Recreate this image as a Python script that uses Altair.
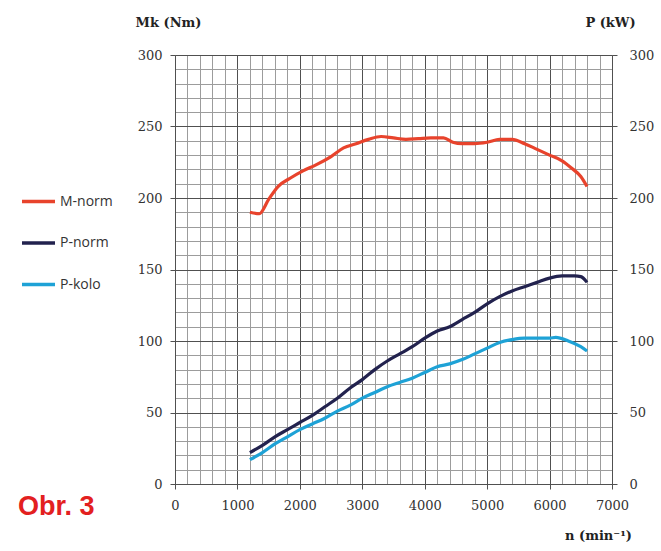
import altair as alt
import pandas as pd

# ---- data ----
m_rpm = [1200, 1350, 1500, 1650, 1850, 2050, 2250, 2500, 2700, 2900, 3100, 3300, 3500, 3700,
         3900, 4100, 4300, 4450, 4600, 4800, 5000, 5200, 5400, 5600, 5800, 6000, 6200, 6350,
         6500, 6600]
m_norm = [190, 189, 199, 208, 214, 219, 223, 229, 235, 238, 241, 243, 242, 241,
          241.5, 242, 242, 239, 238, 238, 239, 241, 241, 238, 234, 230, 226, 221,
          215, 208]

p_rpm = [1200, 1400, 1600, 1800, 2000, 2200, 2400, 2600, 2800, 3000, 3200, 3400, 3600, 3800,
         4000, 4200, 4400, 4600, 4800, 5000, 5200, 5400, 5600, 5800, 6000, 6200, 6400, 6500,
         6600]
p_norm = [22, 27, 33, 38, 43, 48, 54, 60, 67, 73, 80, 86, 91, 96,
          102, 107, 110, 115, 120, 126, 131, 135, 138, 141, 144, 145.5, 145.5, 145,
          141]

k_rpm = [1200, 1400, 1600, 1800, 2000, 2200, 2400, 2600, 2800, 3000, 3200, 3400, 3600, 3800,
         4000, 4200, 4400, 4600, 4800, 5000, 5200, 5400, 5600, 5800, 6000, 6100, 6300, 6500,
         6600]
p_kolo = [17, 22, 28, 33, 38, 42, 46, 51, 55, 60, 64, 68, 71, 74,
          78, 82, 84, 87, 91, 95, 99, 101, 102, 102, 102, 102.5, 100, 96,
          93]

series_names = ["M-norm", "P-norm", "P-kolo"]
series_colors = ["#e8432c", "#22224e", "#1ea2d6"]

x_grid = list(range(0, 7001, 200))
y_grid = list(range(0, 301, 10))

rows = []
for name, xs, ys in [("M-norm", m_rpm, m_norm), ("P-norm", p_rpm, p_norm), ("P-kolo", k_rpm, p_kolo)]:
    for i, (a, b) in enumerate(zip(xs, ys)):
        rows.append({"series": name, "rpm": a, "value": b, "order": i})
df = pd.DataFrame(rows)

serif = "DejaVu Serif"
minor_c = "#9c9c9c"
major_c = "#505050"

x_enc = alt.X(
    "rpm:Q",
    scale=alt.Scale(domain=[0, 7000], nice=False, zero=False),
    axis=alt.Axis(
        values=x_grid, format="d",
        labelExpr="datum.value % 1000 === 0 ? datum.label : ''",
        title="n (min⁻¹)", titleFont=serif, titleFontWeight="bold", titleFontSize=13,
        titleColor="#222", titleX=423, titleY=45, titleAlign="center", titleBaseline="top",
        labelFont=serif, labelFontSize=13, labelColor="#333", labelPadding=10,
        tickSize=5, tickColor={"condition": {"test": "datum.value % 1000 === 0", "value": major_c}, "value": "transparent"},
        grid=True,
        gridColor={"condition": {"test": "datum.value % 1000 === 0", "value": major_c}, "value": minor_c},
        gridWidth=1,
        domainColor=major_c, labelFlush=False, labelOverlap=False,
    ),
)

y_left = alt.Y(
    "value:Q",
    scale=alt.Scale(domain=[0, 300], nice=False),
    axis=alt.Axis(
        values=y_grid,
        labelExpr="datum.value % 50 === 0 ? datum.label : ''",
        title="Mk (Nm)", titleFont=serif, titleFontWeight="bold", titleFontSize=13,
        titleColor="#222", titleAngle=0, titleX=-7, titleY=-33, titleAlign="center",
        titleBaseline="middle",
        labelFont=serif, labelFontSize=13, labelColor="#333", labelPadding=8,
        tickSize=5, tickColor={"condition": {"test": "datum.value % 50 === 0", "value": major_c}, "value": "transparent"},
        grid=True,
        gridColor={"condition": {"test": "datum.value % 50 === 0", "value": major_c}, "value": minor_c},
        gridWidth=1, domainColor=major_c, labelOverlap=False,
    ),
)

y_right = alt.Y(
    "value:Q",
    scale=alt.Scale(domain=[0, 300], nice=False),
    axis=alt.Axis(
        orient="right", values=list(range(0, 301, 50)),
        title="P (kW)", titleFont=serif, titleFontWeight="bold", titleFontSize=13,
        titleColor="#222", titleAngle=0, titleX=-2, titleY=-33, titleAlign="center",
        titleBaseline="middle",
        labelFont=serif, labelFontSize=13, labelColor="#333", labelPadding=12,
        tickSize=5, tickColor=major_c, grid=False, domainColor=major_c,
    ),
)

lines = alt.Chart(df).mark_line(strokeWidth=3.2, interpolate="monotone").encode(
    x=x_enc,
    y=y_left,
    color=alt.Color(
        "series:N",
        scale=alt.Scale(domain=series_names, range=series_colors),
        sort=series_names,
        legend=alt.Legend(
            orient="none", legendX=-155, legendY=128, title=None,
            symbolType="stroke", symbolSize=1089, symbolStrokeWidth=3.5,
            labelFont="Open Sans", labelFontSize=14, labelColor="#333",
            labelOffset=3, rowPadding=15.5, padding=0,
        ),
    ),
    order="order:Q",
)

right = alt.Chart(df).mark_line(opacity=0).encode(
    x=x_enc,
    y=y_right,
    detail="series:N",
)

label = alt.Chart(pd.DataFrame({"t": ["Obr. 3"]})).mark_text(
    text="Obr. 3", font="Liberation Sans", fontWeight="bold", fontSize=27,
    color="#e3201f", align="left", baseline="middle",
).encode(x=alt.value(-157), y=alt.value(452))

chart = alt.layer(lines, right, label).resolve_scale(y="independent").properties(
    width=437, height=429,
    autosize=alt.AutoSizeParams(type="none"),
    padding={"left": 175, "top": 55, "right": 49, "bottom": 67},
    background="white",
).configure_view(stroke=None)

chart.save("out.html", embed_options={"renderer": "svg", "actions": False})
